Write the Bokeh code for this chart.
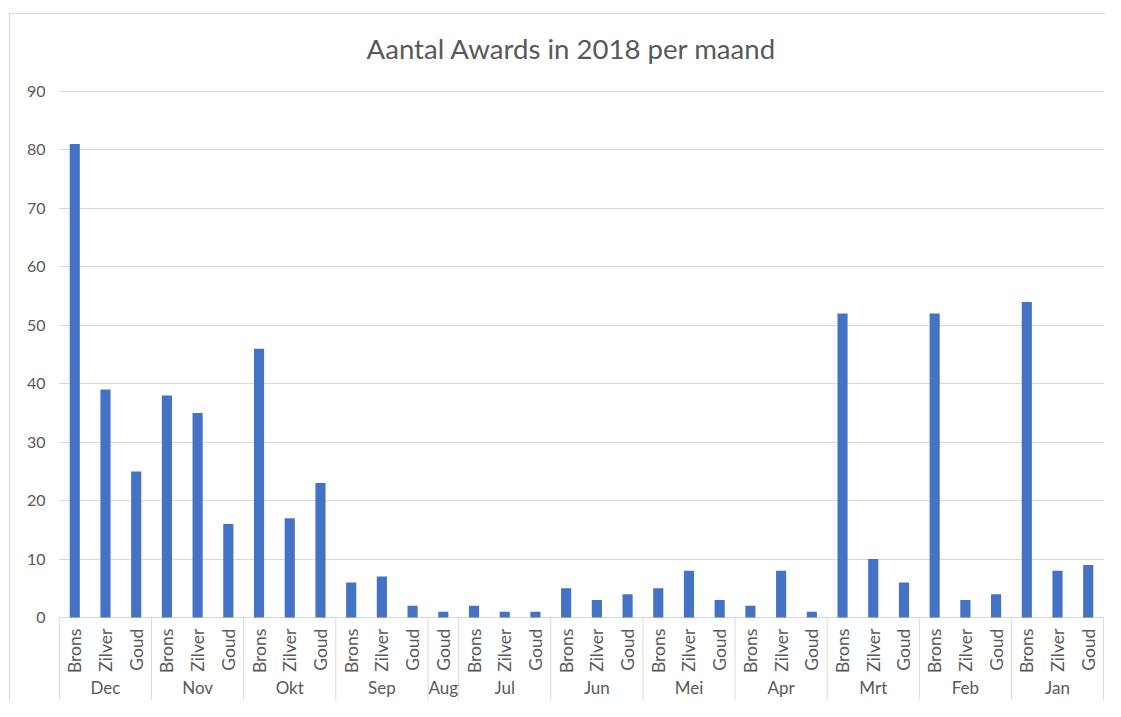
import math
from bokeh.plotting import figure
from bokeh.models import FixedTicker, Range1d, InlineStyleSheet
from bokeh.embed import file_html
from bokeh.resources import INLINE
from bokeh.core.properties import value

# ---- data ----
months = ["Dec", "Nov", "Okt", "Sep", "Aug", "Jul", "Jun", "Mei", "Apr", "Mrt", "Feb", "Jan"]
award_types = ["Brons", "Zilver", "Goud"]
brons = [81, 38, 46, 6, None, 2, 5, 5, 2, 52, 52, 54]
zilver = [39, 35, 17, 7, None, 1, 3, 8, 8, 10, 3, 8]
goud = [25, 16, 23, 2, 1, 1, 4, 3, 1, 6, 4, 9]
y_ticks = [0, 10, 20, 30, 40, 50, 60, 70, 80, 90]
title_text = "Aantal Awards in 2018 per maand"

# ---- build flat category list ----
xs, vals, subs = [], [], []
bounds = [0]
centers = []
idx = 0
for m, b, z, g in zip(months, brons, zilver, goud):
    start = idx
    for t, v in zip(award_types, (b, z, g)):
        if v is None:
            continue
        xs.append(idx + 0.5)
        vals.append(v)
        subs.append(t)
        idx += 1
    bounds.append(idx)
    centers.append((start + idx) / 2)

n = idx
FONT = "Lato"
GREY = "#595959"
LINE = "#d9d9d9"
Y0 = -14.2

pad = 0.03
p = figure(width=1105, height=701, output_backend="svg", toolbar_location=None,
           x_axis_type=None,
           x_range=Range1d(-pad, n + pad), y_range=Range1d(Y0, 91.88),
           min_border_left=58, min_border_right=1, min_border_top=80, min_border_bottom=1,
           outline_line_color=None, border_fill_color=None, background_fill_color=None)
p.stylesheets = [InlineStyleSheet(
    css=":host { box-shadow: inset 9px 13px 0 0 #ffffff, inset 10px 14px 0 0 #d9d9d9; }")]

p.title.text = title_text
p.title.align = "left"
p.title.text_font = FONT
p.title.text_font_size = "27.6px"
p.title.text_font_style = "normal"
p.title.text_color = GREY
p.title.offset = 308
p.title.standoff = 31

p.xgrid.visible = False
p.ygrid.ticker = FixedTicker(ticks=y_ticks)
p.ygrid.grid_line_color = LINE
p.yaxis.ticker = FixedTicker(ticks=y_ticks)
p.yaxis.axis_line_color = None
p.yaxis.major_tick_line_color = None
p.yaxis.minor_tick_line_color = None
p.yaxis.major_tick_out = 0
p.yaxis.major_label_standoff = 13
p.yaxis.major_label_text_font = FONT
p.yaxis.major_label_text_font_size = "16px"
p.yaxis.major_label_text_color = GREY

p.vbar(x=xs, top=vals, bottom=0, width=0.33, fill_color="#4472C4", line_color=None)

p.segment(x0=bounds, y0=[0] * len(bounds), x1=bounds, y1=[Y0] * len(bounds),
          line_color=LINE, line_width=1)

p.text(x=xs, y=[-1.9] * len(xs), text=subs, angle=math.pi / 2,
       text_align="right", text_baseline="middle",
       text_font=value(FONT), text_font_size="17.5px", text_color=GREY)
p.text(x=centers, y=[-11.95] * len(centers), text=months,
       text_align="center", text_baseline="middle",
       text_font=value(FONT), text_font_size="17px", text_color=GREY)

open("out.html", "w").write(file_html(p, INLINE))
